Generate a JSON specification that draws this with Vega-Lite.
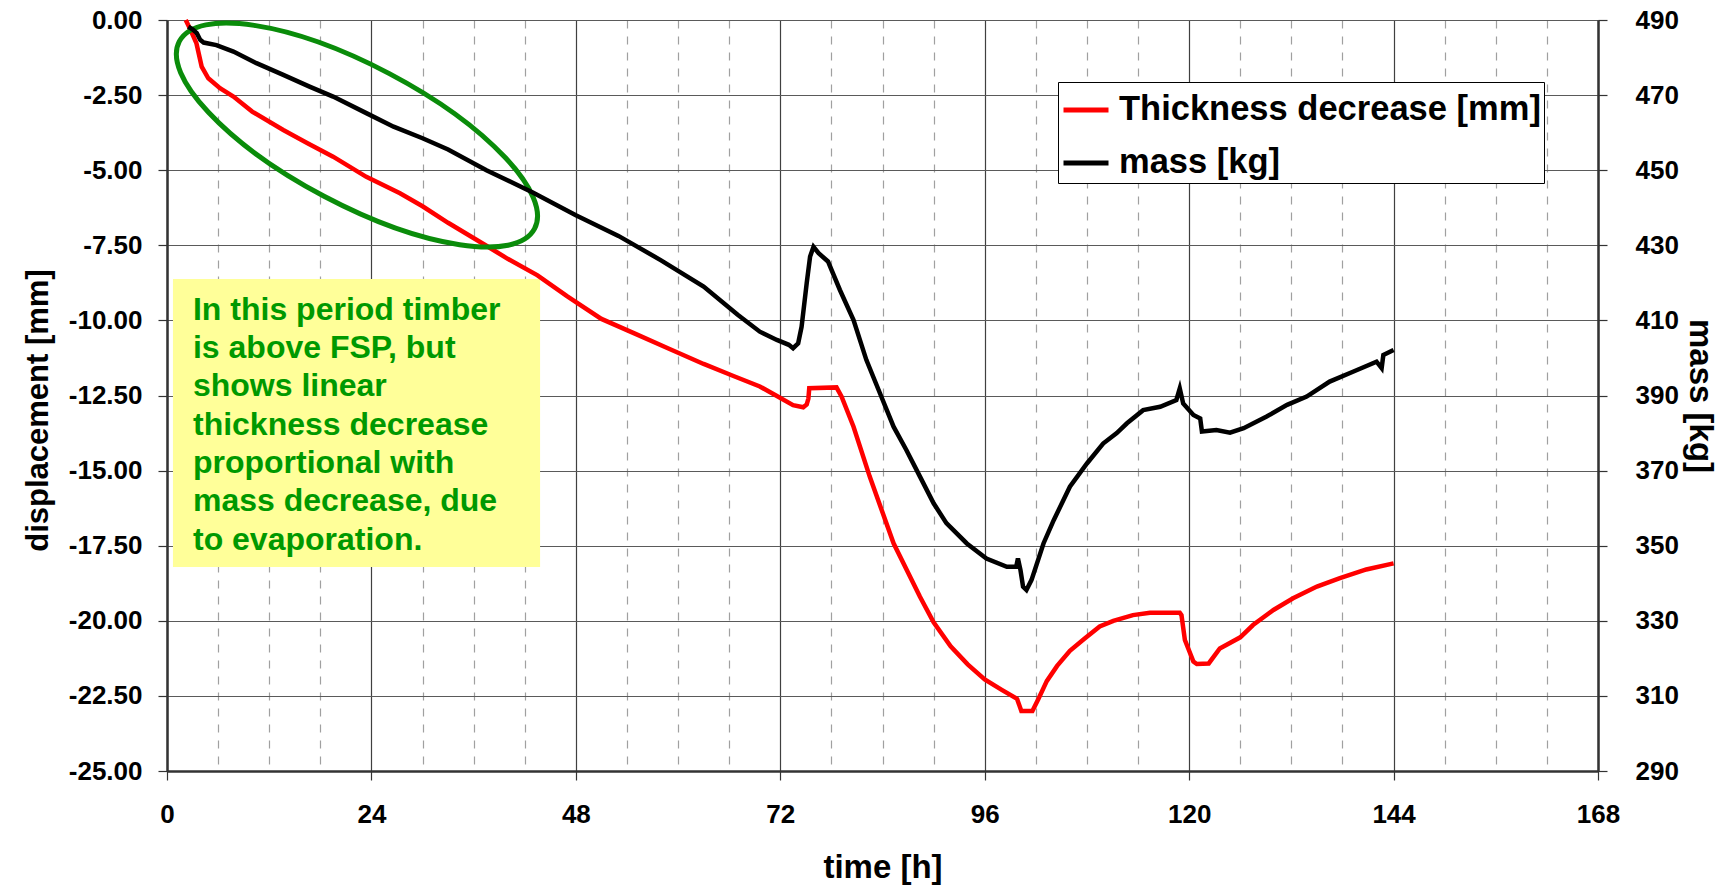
{
  "$schema": "https://vega.github.io/schema/vega-lite/v6.json",
  "width": 1431,
  "height": 751,
  "autosize": {"type": "none"},
  "padding": {"left": 167, "top": 20, "right": 133, "bottom": 117},
  "background": "white",
  "config": {
    "font": "Liberation Sans",
    "view": {"stroke": null},
    "axis": {"labelFont": "Liberation Sans", "titleFont": "Liberation Sans", "labelColor": "black", "titleColor": "black"}
  },
  "datasets": {
    "thick": [
      {"t": 2.2, "d": 0}, {"t": 2.8, "d": -0.35}, {"t": 3.46, "d": -0.78}, {"t": 4.07, "d": -1.55}, {"t": 4.85, "d": -1.94},
      {"t": 6.22, "d": -2.27}, {"t": 7.8, "d": -2.55}, {"t": 10, "d": -3.05}, {"t": 13.65, "d": -3.66}, {"t": 16.5, "d": -4.1},
      {"t": 19.5, "d": -4.55}, {"t": 23.4, "d": -5.22}, {"t": 27.35, "d": -5.77}, {"t": 30, "d": -6.2}, {"t": 33, "d": -6.75},
      {"t": 37.4, "d": -7.5}, {"t": 40, "d": -7.95}, {"t": 43.5, "d": -8.5}, {"t": 47, "d": -9.2}, {"t": 51, "d": -9.95},
      {"t": 55, "d": -10.45}, {"t": 59, "d": -10.95}, {"t": 63, "d": -11.45}, {"t": 66.5, "d": -11.85}, {"t": 69.6, "d": -12.2},
      {"t": 71.5, "d": -12.5}, {"t": 73.5, "d": -12.82}, {"t": 74.7, "d": -12.89}, {"t": 75.1, "d": -12.8}, {"t": 75.3, "d": -12.6},
      {"t": 75.4, "d": -12.26}, {"t": 78.6, "d": -12.23}, {"t": 79.2, "d": -12.54}, {"t": 80.6, "d": -13.54}, {"t": 82.5, "d": -15.2},
      {"t": 85.3, "d": -17.42}, {"t": 88.4, "d": -19.2}, {"t": 90, "d": -20.05}, {"t": 92, "d": -20.85}, {"t": 94, "d": -21.45},
      {"t": 96, "d": -21.95}, {"t": 98, "d": -22.3}, {"t": 99.8, "d": -22.6}, {"t": 100.3, "d": -23.0}, {"t": 101.6, "d": -23.0},
      {"t": 102.3, "d": -22.6}, {"t": 103.3, "d": -22.0}, {"t": 104.5, "d": -21.5}, {"t": 106, "d": -21.0}, {"t": 107.7, "d": -20.6},
      {"t": 109.5, "d": -20.19}, {"t": 111.1, "d": -20.0}, {"t": 113.4, "d": -19.81}, {"t": 115.4, "d": -19.73}, {"t": 118.9, "d": -19.73},
      {"t": 119.1, "d": -19.81}, {"t": 119.5, "d": -20.64}, {"t": 120.5, "d": -21.36}, {"t": 120.9, "d": -21.44}, {"t": 122.3, "d": -21.42},
      {"t": 123.6, "d": -20.92}, {"t": 126.0, "d": -20.55}, {"t": 127.5, "d": -20.14}, {"t": 129.9, "d": -19.64}, {"t": 132.2, "d": -19.25},
      {"t": 135.0, "d": -18.86}, {"t": 137.7, "d": -18.58}, {"t": 140.8, "d": -18.29}, {"t": 144.0, "d": -18.09}
    ],
    "mass": [
      {"t": 2.5, "m": 488.2}, {"t": 3.0, "m": 487.5}, {"t": 3.5, "m": 486.5}, {"t": 3.9, "m": 484.7}, {"t": 4.3, "m": 484.0},
      {"t": 5.8, "m": 483.3}, {"t": 7.8, "m": 481.6}, {"t": 10.5, "m": 478.5}, {"t": 13.65, "m": 475.4}, {"t": 16.8, "m": 472.2},
      {"t": 19.5, "m": 469.6}, {"t": 23.4, "m": 465.2}, {"t": 26.6, "m": 461.6}, {"t": 30, "m": 458.5}, {"t": 33, "m": 455.5},
      {"t": 37.5, "m": 450}, {"t": 43, "m": 444}, {"t": 48, "m": 438}, {"t": 53, "m": 432.5}, {"t": 58, "m": 426},
      {"t": 63, "m": 419}, {"t": 67, "m": 411.5}, {"t": 69.6, "m": 407.0}, {"t": 71.6, "m": 404.8}, {"t": 73.0, "m": 403.5},
      {"t": 73.5, "m": 402.6}, {"t": 74.1, "m": 403.9}, {"t": 74.5, "m": 408.3}, {"t": 75.1, "m": 419.9}, {"t": 75.5, "m": 427.0},
      {"t": 75.9, "m": 429.6}, {"t": 76.5, "m": 427.9}, {"t": 77.6, "m": 425.7}, {"t": 79.0, "m": 418.1}, {"t": 80.6, "m": 410.1},
      {"t": 82.1, "m": 399.5}, {"t": 83.7, "m": 390.6}, {"t": 85.3, "m": 381.7}, {"t": 86.8, "m": 375.5}, {"t": 88.4, "m": 368.4},
      {"t": 90.0, "m": 361.3}, {"t": 91.5, "m": 356.0}, {"t": 93.9, "m": 350.6}, {"t": 96.2, "m": 346.6}, {"t": 98.6, "m": 344.4},
      {"t": 99.7, "m": 344.4}, {"t": 99.9, "m": 346.6}, {"t": 100.2, "m": 343.5}, {"t": 100.5, "m": 339.1}, {"t": 100.9, "m": 338.2},
      {"t": 101.5, "m": 340.9}, {"t": 102.9, "m": 350.6}, {"t": 104.1, "m": 356.8}, {"t": 106.0, "m": 365.7}, {"t": 108.0, "m": 371.9},
      {"t": 109.9, "m": 377.2}, {"t": 111.5, "m": 380.0}, {"t": 112.7, "m": 382.6}, {"t": 114.6, "m": 386.1}, {"t": 116.6, "m": 387.0},
      {"t": 118.5, "m": 388.8}, {"t": 118.9, "m": 391.9}, {"t": 119.3, "m": 387.9}, {"t": 120.5, "m": 384.8}, {"t": 121.3, "m": 383.9},
      {"t": 121.5, "m": 380.4}, {"t": 123.2, "m": 380.8}, {"t": 124.8, "m": 380.1}, {"t": 126.4, "m": 381.3}, {"t": 129.1, "m": 384.4},
      {"t": 131.5, "m": 387.5}, {"t": 133.8, "m": 389.7}, {"t": 136.5, "m": 393.7}, {"t": 139.3, "m": 396.4}, {"t": 142.0, "m": 399.0},
      {"t": 142.6, "m": 397.3}, {"t": 142.8, "m": 400.8}, {"t": 144.0, "m": 402.1}
    ],
    "note": [{"t": 0.7, "t2": 43.8, "d": -8.62, "d2": -18.21}],
    "noteText": [{"t": 3.05, "d": -9.65}],
    "ellipse": [{"t": 22.3, "d": -3.83}]
  },
  "encoding": {
    "x": {
      "field": "t", "type": "quantitative",
      "scale": {"domain": [0, 168], "nice": false, "zero": false},
      "axis": {
        "values": [0, 6, 12, 18, 24, 30, 36, 42, 48, 54, 60, 66, 72, 78, 84, 90, 96, 102, 108, 114, 120, 126, 132, 138, 144, 150, 156, 162, 168],
        "format": "d",
        "labelExpr": "datum.value % 24 === 0 ? datum.label : ''",
        "labelOverlap": false,
        "labelFlush": false,
        "grid": true,
        "gridColor": {"condition": {"test": "datum.value % 24 === 0", "value": "#404040"}, "value": "#a0a0a0"},
        "gridDash": {"condition": {"test": "datum.value % 24 === 0", "value": []}, "value": [8, 8]},
        "gridWidth": 1.2,
        "tickOpacity": {"condition": {"test": "datum.value % 24 === 0", "value": 1}, "value": 0},
        "tickSize": 9, "tickColor": "#333333", "tickWidth": 1.2,
        "domainColor": "#333333", "domainWidth": 2.5,
        "labelFontSize": 26, "labelFontWeight": "bold", "labelPadding": 21,
        "title": "time [h]", "titleFontSize": 33, "titleFontWeight": "bold", "titlePadding": 24
      }
    }
  },
  "layer": [
    {
      "encoding": {
        "y": {
          "field": "d", "type": "quantitative",
          "scale": {"domain": [-25, 0], "nice": false, "zero": false},
          "axis": {
            "values": [-25, -22.5, -20, -17.5, -15, -12.5, -10, -7.5, -5, -2.5, 0],
            "format": ".2f",
            "labelExpr": "replace(datum.label, '\u2212', '-')",
            "grid": true, "gridColor": "#5a5a5a", "gridWidth": 1.2,
            "tickSize": 9, "tickColor": "#333333", "tickWidth": 1.2,
            "domainColor": "#333333", "domainWidth": 2.5,
            "labelFontSize": 26, "labelFontWeight": "bold", "labelPadding": 16,
            "title": "displacement [mm]", "titleFontSize": 31, "titleFontWeight": "bold", "titlePadding": 14, "titleY": 390
          }
        }
      },
      "layer": [
        {
          "data": {"name": "note"},
          "mark": {"type": "rect", "fill": "#FFFF99", "stroke": null},
          "encoding": {"x2": {"field": "t2"}, "y2": {"field": "d2"}}
        },
        {
          "data": {"name": "noteText"},
          "mark": {
            "type": "text", "align": "left", "baseline": "middle",
            "font": "Liberation Sans", "fontWeight": "bold", "fontSize": 32, "lineHeight": 38.3,
            "color": "#009900",
            "text": ["In this period timber", "is above FSP, but", "shows linear", "thickness decrease", "proportional with", "mass decrease, due", "to evaporation."]
          }
        },
        {
          "data": {"name": "thick"},
          "mark": {"type": "line", "strokeWidth": 4.5, "interpolate": "linear"},
          "encoding": {
            "color": {
              "datum": "Thickness decrease [mm]",
              "scale": {"domain": ["Thickness decrease [mm]", "mass [kg]"], "range": ["#FF0000", "#000000"]},
              "legend": {
                "orient": "none", "legendX": 891, "legendY": 62, "title": null,
                "strokeColor": "#000000", "fillColor": "white", "padding": 3,
                "labelFont": "Liberation Sans", "labelFontSize": 34.5, "labelFontWeight": "bold", "labelColor": "black",
                "labelLimit": 1000, "labelOffset": 8,
                "symbolType": "stroke", "symbolSize": 2025, "symbolStrokeWidth": 5, "rowPadding": 11
              }
            }
          }
        },
        {
          "data": {"name": "ellipse"},
          "mark": {
            "type": "point", "filled": false, "fill": null, "opacity": 1,
            "shape": "M -1 0 C -1 -0.1911 -0.5523 -0.346 0 -0.346 C 0.5523 -0.346 1 -0.1911 1 0 C 1 0.1911 0.5523 0.346 0 0.346 C -0.5523 0.346 -1 0.1911 -1 0 Z",
            "size": 161300, "angle": 27.8, "stroke": "#0A8C0A", "strokeWidth": 5
          }
        }
      ]
    },
    {
      "data": {"name": "mass"},
      "mark": {"type": "line", "strokeWidth": 4.5},
      "encoding": {
        "y": {
          "field": "m", "type": "quantitative",
          "scale": {"domain": [290, 490], "nice": false, "zero": false},
          "axis": {
            "orient": "right",
            "values": [290, 310, 330, 350, 370, 390, 410, 430, 450, 470, 490],
            "format": "d",
            "grid": false,
            "tickSize": 9, "tickColor": "#333333", "tickWidth": 1.2,
            "domainColor": "#333333", "domainWidth": 2.5,
            "labelFontSize": 26, "labelFontWeight": "bold", "labelPadding": 28,
            "title": "mass [kg]", "titleFontSize": 33, "titleFontWeight": "bold", "titlePadding": 4
          }
        },
        "color": {
          "datum": "mass [kg]",
          "scale": {"domain": ["Thickness decrease [mm]", "mass [kg]"], "range": ["#FF0000", "#000000"]},
          "legend": {
            "orient": "none", "legendX": 891, "legendY": 62, "title": null,
            "strokeColor": "#000000", "fillColor": "white", "padding": 3,
            "labelFont": "Liberation Sans", "labelFontSize": 34.5, "labelFontWeight": "bold", "labelColor": "black",
            "labelLimit": 1000, "labelOffset": 8,
            "symbolType": "stroke", "symbolSize": 2025, "symbolStrokeWidth": 5, "rowPadding": 11
          }
        }
      }
    }
  ],
  "resolve": {"scale": {"y": "independent"}}
}
